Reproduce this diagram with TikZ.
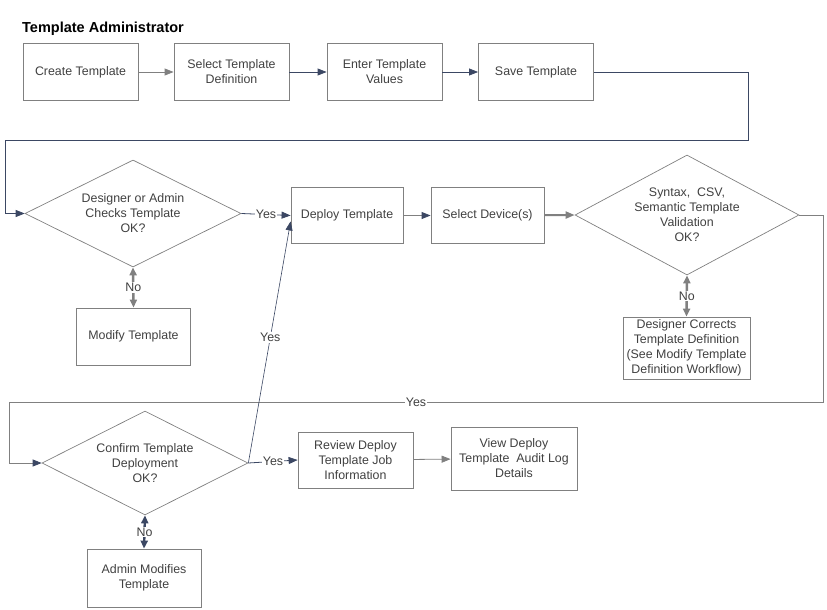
\documentclass[tikz,border=0pt]{standalone}
\usepackage{fontspec}
\setmainfont{Liberation Sans}
\usetikzlibrary{arrows.meta,shapes.geometric}
\definecolor{navy}{HTML}{3B4763}
\definecolor{gline}{HTML}{808080}
\definecolor{btext}{HTML}{404040}
\tikzset{
  box/.style={draw=gline, line width=0.8pt, rectangle, inner sep=1pt, align=center, text=btext, font=\fontsize{12.4}{15}\selectfont},
  dec/.style={draw=gline, line width=0.7pt, diamond, inner sep=0pt, align=center, text=btext, font=\fontsize{12.4}{15}\selectfont},
  tipn/.style={-{Triangle[length=9pt,width=7pt]}},
  navyline/.style={draw=navy, line width=0.8pt, tipn, color=navy},
  greyline/.style={draw=gline, line width=0.8pt, tipn, color=gline},
  nolink/.style={{Triangle[length=8pt,width=7pt]}-{Triangle[length=8pt,width=7pt]}, line width=2.4pt},
  lbl/.style={fill=white, inner sep=1pt, text=btext, font=\fontsize{12.4}{15}\selectfont}
}
\begin{document}
\begin{tikzpicture}[x=1pt,y=-1pt]
\useasboundingbox (0,0) rectangle (827,610);
\node[anchor=base west, font=\bfseries\fontsize{14.5}{16}\selectfont, text=black, inner sep=0pt] (title) at (22,32.5) {Template Administrator};

% row 1
\node[box, minimum width=115pt, minimum height=57pt] (create) at (80.5,72) {Create Template};
\node[box, minimum width=115pt, minimum height=57pt] (seldef) at (231.5,72) {Select Template\\Definition};
\node[box, minimum width=115pt, minimum height=57pt] (enter) at (384.5,72) {Enter Template\\Values};
\node[box, minimum width=115pt, minimum height=57pt] (save) at (536,72) {Save Template};

% row 2
\node[dec, aspect=2.02, minimum width=216pt, minimum height=107pt] (d1) at (133,213.5) {Designer or Admin\\Checks Template\\OK?};
\node[box, minimum width=112pt, minimum height=56pt] (deploy) at (347,215.5) {Deploy Template};
\node[box, minimum width=113pt, minimum height=56pt] (seldev) at (487.5,215.5) {Select Device(s)};
\node[dec, aspect=1.87, minimum width=224pt, minimum height=120pt] (d2) at (687,215) {Syntax,\ \ CSV,\\Semantic Template\\Validation\\OK?};
\node[box, minimum width=114pt, minimum height=57pt] (modify) at (133.5,336.5) {Modify Template};
\node[box, minimum width=127pt, minimum height=62pt, inner sep=0pt] (corr) at (686.5,348) {Designer Corrects\\Template Definition\\(See Modify Template\\Definition Workflow)};

% row 3
\node[dec, aspect=1.98, minimum width=206pt, minimum height=104pt] (d3) at (145,463) {Confirm Template\\Deployment\\OK?};
\node[box, minimum width=115pt, minimum height=56pt] (review) at (355.5,460) {Review Deploy\\Template Job\\Information};
\node[box, minimum width=126pt, minimum height=63pt] (view) at (514,458.5) {View Deploy\\Template\ \ Audit Log\\Details};
\node[box, minimum width=114pt, minimum height=58pt] (admin) at (144,578) {Admin Modifies\\Template};

% coordinates for loops
\coordinate (c1) at (748,140);
\coordinate (c2) at (5,140);
\coordinate (c3) at (823,402);
\coordinate (c4) at (9,402);

% connectors row 1
\draw[greyline] (create) -- (seldef);
\draw[navyline] (seldef) -- (enter);
\draw[navyline] (enter) -- (save);
\draw[navyline] (save.east) -| (c1) -- (c2) |- (d1.west);

% row 2
\draw[navyline] (d1.east) -- node[lbl] {Yes} (deploy.west);
\draw[draw=gline, line width=0.8pt, -{Triangle[length=9pt,width=7pt,fill=navy,color=navy]}] (deploy) -- (seldev);
\draw[greyline, line width=2pt] (seldev) -- (d2.west);
\draw[nolink, color=gline] (d1.south) -- node[lbl] {No} (modify.north);
\draw[nolink, color=gline] (d2.south) -- node[lbl] {No} (corr.north);
\draw[draw=gline, line width=0.8pt, -{Triangle[length=9pt,width=7pt,fill=navy,color=navy]}] (d2.east) -| (c3) -- node[lbl, pos=0.5] {Yes} (c4) |- (d3.west);

% row 3
\draw[navyline] (d3.east) -- node[lbl] {Yes} (review.west);
\draw[navyline, line width=0.6pt] (d3.east) -- node[lbl, pos=0.52] {Yes} (deploy.186);
\draw[greyline] (review) -- (view);
\draw[nolink, color=navy] (d3.south) -- node[lbl] {No} (admin.north);
\end{tikzpicture}
\end{document}
